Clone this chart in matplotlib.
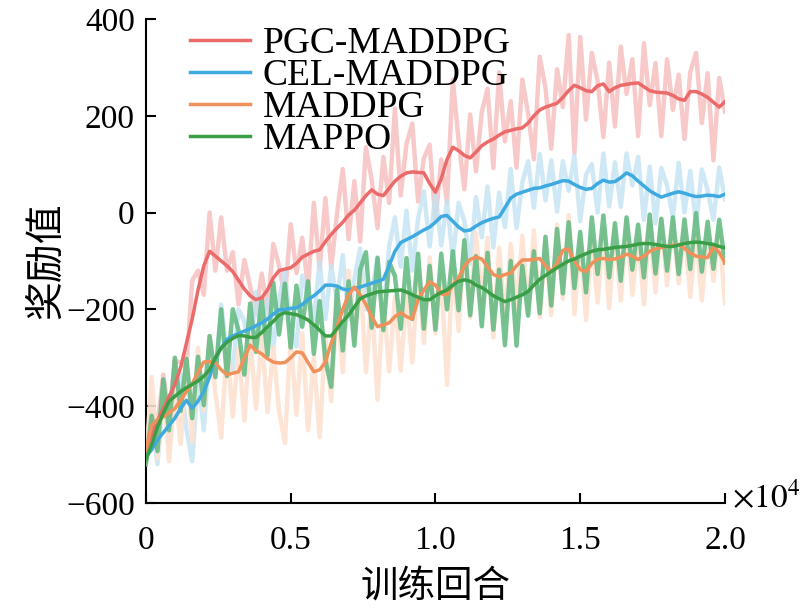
import numpy as np
import matplotlib
matplotlib.use('Agg')
import matplotlib.pyplot as plt

plt.rcParams['font.family'] = ['Liberation Serif', 'Noto Sans CJK SC']
plt.rcParams['mathtext.fontset'] = 'stix'
plt.rcParams['axes.unicode_minus'] = True

# training episodes (one sample every 200 episodes)
episodes = np.arange(0, 20001, 200)

names = ['PGC-MADDPG', 'CEL-MADDPG', 'MADDPG', 'MAPPO']

pgc_smooth = [-490, -460, -430, -405, -380, -356, -320, -270, -220, -160,
              -110, -80, -90, -100, -110, -122, -140, -158, -172, -180,
              -176, -160, -135, -120, -117, -114, -105, -92, -86, -80,
              -77, -60, -45, -32, -20, -5, 5, 20, 35, 47,
              38, 35, 50, 65, 75, 82, 84, 83, 82, 60,
              42, 70, 110, 135, 128, 118, 113, 125, 138, 146,
              152, 160, 167, 170, 173, 175, 185, 200, 212, 218,
              222, 226, 238, 252, 263, 258, 252, 250, 262, 266,
              250, 258, 263, 265, 267, 268, 260, 252, 249, 248,
              247, 242, 235, 232, 250, 250, 245, 238, 228, 218,
              229]
pgc_raw = [-510, -400, -440, -335, -420, -306, -310, -320, -140, -120,
           -170, 0, -120, -10, -120, -82, -190, -98, -152, -210,
           -126, -200, -65, -110, -177, -24, -125, -52, -156, 20,
           -117, 30, -115, -2, 90, -55, 65, -60, 135, 67,
           -32, 115, 20, 215, 35, 142, 184, 23, 112, 140,
           -18, 110, 20, 275, 148, 48, 203, 85, 208, 256,
           92, 290, 147, 230, 93, 275, 205, 110, 322, 258,
           132, 296, 218, 367, 123, 363, 192, 330, 272, 156,
           310, 178, 343, 245, 317, 158, 350, 222, 309, 158,
           317, 212, 285, 152, 290, 330, 185, 288, 108, 278,
           209]

cel_smooth = [-505, -490, -470, -455, -440, -425, -405, -388, -404, -390,
              -370, -340, -300, -280, -262, -255, -250, -245, -240, -234,
              -228, -220, -210, -201, -200, -198, -197, -190, -180, -172,
              -162, -150, -150, -152, -158, -160, -157, -154, -150, -146,
              -142, -138, -110, -80, -62, -56, -50, -43, -36, -30,
              -20, -8, -6, -18, -30, -38, -36, -28, -21, -16,
              -12, -9, 10, 30, 38, 42, 46, 50, 51, 55,
              58, 62, 66, 65, 58, 52, 48, 50, 60, 67,
              63, 64, 72, 82, 76, 65, 55, 45, 38, 32,
              36, 40, 43, 40, 36, 33, 34, 36, 35, 33,
              38]
cel_raw = [-520, -430, -520, -375, -480, -395, -335, -448, -514, -340,
           -450, -280, -340, -190, -292, -325, -200, -225, -300, -164,
           -278, -180, -280, -181, -120, -238, -277, -130, -170, -222,
           -102, -220, -110, -182, -88, -220, -137, -74, -200, -166,
           -92, -218, -70, -10, -112, 4, -120, -13, 44, -70,
           40, -68, 24, -98, 20, -18, -106, 32, -51, 54,
           -72, 41, -30, 90, -32, 62, 106, 10, 121, 25,
           108, 2, 106, 45, 118, -18, 78, 100, 0, 122,
           13, 104, 12, 122, 56, 115, -15, 95, -22, 92,
           56, -10, 103, 0, 86, -27, 89, 46, -15, 93,
           28]

maddpg_smooth = [-490, -440, -428, -422, -414, -405, -388, -370, -354, -330,
                 -309, -308, -311, -325, -335, -332, -329, -300, -274, -285,
                 -292, -302, -309, -311, -310, -300, -288, -290, -310, -329,
                 -325, -309, -270, -236, -200, -170, -154, -170, -190, -215,
                 -236, -232, -228, -215, -207, -215, -220, -180, -160, -143,
                 -150, -168, -170, -150, -135, -110, -97, -92, -96, -112,
                 -128, -133, -128, -125, -110, -98, -98, -97, -95, -110,
                 -122, -105, -78, -75, -100, -118, -122, -105, -96, -95,
                 -97, -96, -92, -86, -90, -97, -90, -80, -75, -72,
                 -70, -68, -66, -74, -84, -90, -92, -93, -71, -82,
                 -104]
maddpg_raw = [-520, -340, -508, -362, -514, -365, -478, -300, -474, -280,
              -409, -258, -371, -465, -275, -422, -279, -430, -254, -405,
              -252, -412, -279, -411, -476, -260, -418, -250, -450, -299,
              -464, -259, -390, -186, -330, -120, -264, -130, -330, -175,
              -387, -172, -328, -175, -327, -165, -310, -120, -270, -93,
              -250, -128, -356, -100, -245, -60, -217, -42, -186, -52,
              -258, -73, -228, -65, -200, -48, -208, -37, -216, -60,
              -212, -25, -178, -5, -210, -58, -222, -55, -186, -35,
              -197, -36, -182, -16, -170, -47, -190, -20, -165, -12,
              -150, -18, -146, -34, -174, -40, -182, -33, -141, -42,
              -187]

mappo_smooth = [-511, -480, -443, -415, -390, -380, -370, -362, -355, -348,
                -338, -325, -300, -280, -268, -260, -254, -255, -258, -258,
                -248, -236, -225, -212, -207, -209, -211, -216, -222, -232,
                -243, -255, -255, -240, -225, -212, -195, -178, -172, -168,
                -164, -163, -162, -161, -160, -164, -170, -175, -180, -180,
                -172, -165, -160, -150, -142, -139, -142, -150, -155, -163,
                -172, -178, -184, -180, -175, -170, -163, -150, -138, -130,
                -122, -114, -107, -100, -96, -90, -85, -80, -77, -76,
                -74, -72, -71, -70, -68, -65, -64, -64, -66, -68,
                -70, -70, -67, -64, -62, -61, -62, -64, -66, -70,
                -73]
mappo_raw = [-520, -420, -493, -345, -450, -300, -410, -302, -425, -298,
             -398, -255, -340, -200, -338, -200, -244, -335, -188, -288,
             -178, -296, -145, -252, -147, -279, -151, -236, -142, -292,
             -183, -305, -360, -160, -285, -142, -275, -118, -82, -238,
             -94, -243, -102, -131, -240, -94, -220, -85, -240, -110,
             -242, -85, -200, -80, -202, -57, -212, -90, -235, -83,
             -242, -118, -274, -100, -275, -110, -213, -80, -208, -50,
             -192, -34, -167, -20, -156, -40, -165, -10, -127, -6,
             -134, -22, -141, -10, -118, -25, -134, -4, -126, -13,
             -120, -10, -127, -14, -117, -1, -122, -19, -116, -15,
             -103]

smooth = [pgc_smooth, cel_smooth, maddpg_smooth, mappo_smooth]
raw = [pgc_raw, cel_raw, maddpg_raw, mappo_raw]
line_colors = ['#eb6a6a', '#3eaadf', '#f0915c', '#3a9e47']
raw_colors = ['#f7bcbc', '#c3e3f3', '#fde2d1', '#5fb87e']
raw_alpha = [0.8, 0.8, 0.9, 0.85]

fig = plt.figure(figsize=(8.06, 6.14), dpi=100)
ax = fig.add_axes([0.181, 0.181, 0.7185, 0.788])

for i in range(4):
    ax.plot(episodes, raw[i], color=raw_colors[i], lw=3.2, alpha=raw_alpha[i], zorder=1 + i)
for i in range(4):
    ax.plot(episodes, smooth[i], color=line_colors[i], lw=2.5, label=names[i], zorder=10 + i)

ax.set_xlim(0, 20000)
ax.set_ylim(-600, 400)
ax.set_xticks([0, 5000, 10000, 15000, 20000])
ax.set_xticklabels(['0', '0.5', '1.0', '1.5', '2.0'])
ax.set_yticks([-600, -400, -200, 0, 200, 400])

for s in ['top', 'right']:
    ax.spines[s].set_visible(False)
for s in ['left', 'bottom']:
    ax.spines[s].set_linewidth(1.5)
ax.tick_params(direction='in', length=7, width=1.5, labelsize=24, pad=8)
ax.tick_params(axis='x', pad=16)

ax.text(1.012, 0.01, r'$\times10^4$', transform=ax.transAxes, fontsize=24,
        ha='left', va='center')

ax.set_xlabel('训练回合', fontsize=27, family=['Noto Sans CJK SC'], labelpad=8)
ax.set_ylabel('奖励值', fontsize=28, family=['Noto Sans CJK SC'], labelpad=0)

ax.legend(loc='upper left', bbox_to_anchor=(0.05, 1.015), frameon=False,
          fontsize=27, handlelength=1.6, handletextpad=0.35, labelspacing=-0.07,
          borderaxespad=0)

fig.savefig('out.png', dpi=100)
